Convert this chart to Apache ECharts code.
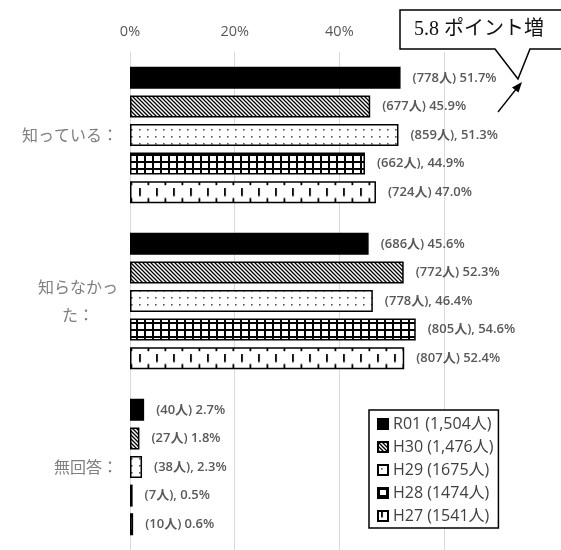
<!DOCTYPE html>
<html>
<head>
<meta charset="utf-8">
<script src="https://cdn.jsdelivr.net/npm/echarts@6/dist/echarts.min.js"></script>
<style>
html,body{margin:0;padding:0;background:#fff;}
#main{width:561px;height:550px;}
</style>
</head>
<body>
<div id="main"></div>
<script>
// ---- data ----
const categories = ['知っている：', '知らなかっ\nた：', '無回答：'];
const seriesNames = ['R01 (1,504人)', 'H30 (1,476人)', 'H29 (1675人)', 'H28 (1474人)', 'H27 (1541人)'];
const valuesR01 = [51.7, 45.6, 2.7];
const valuesH30 = [45.9, 52.3, 1.8];
const valuesH29 = [51.3, 46.4, 2.3];
const valuesH28 = [44.9, 54.6, 0.5];
const valuesH27 = [47.0, 52.4, 0.6];
const labelsR01 = ['(778人) 51.7%', '(686人) 45.6%', '(40人) 2.7%'];
const labelsH30 = ['(677人) 45.9%', '(772人) 52.3%', '(27人) 1.8%'];
const labelsH29 = ['(859人), 51.3%', '(778人), 46.4%', '(38人), 2.3%'];
const labelsH28 = ['(662人), 44.9%', '(805人), 54.6%', '(7人), 0.5%'];
const labelsH27 = ['(724人) 47.0%', '(807人) 52.4%', '(10人) 0.6%'];
const xTicks = [0, 20, 40, 60];
const calloutText = '5.8 ポイント増';

// ---- patterns ----
function makePattern(w, h, draw, extra) {
  const c = document.createElement('canvas');
  c.width = w; c.height = h;
  const g = c.getContext('2d');
  g.fillStyle = '#fff'; g.fillRect(0, 0, w, h);
  g.fillStyle = '#000'; g.strokeStyle = '#000';
  draw(g);
  return Object.assign({ image: c, repeat: 'repeat' }, extra || {});
}
const patDiag = makePattern(4, 4, g => {
  g.lineWidth = 1.3;
  g.beginPath();
  for (let k = -4; k <= 4; k += 4) { g.moveTo(k - 1, -1); g.lineTo(k + 5, 5); }
  g.stroke();
});
const patDots = makePattern(8, 7, g => { g.fillStyle = '#555'; g.fillRect(3, 3, 1.6, 1.6); });
const patGrid = makePattern(8, 7, g => { g.fillRect(0, 0, 2, 7); g.fillRect(0, 0, 8, 2); });
function dashPattern(y0, period) {
  return makePattern(17, 25, g => {
    g.fillRect(11.5, 0, 1.8, 5);
    g.fillRect(3, 8, 1.8, 8.5);
    g.fillRect(11.5, 18.5, 1.8, 5);
  }, { y: y0, scaleY: period / 25 });
}

const valueSets = [valuesR01, valuesH30, valuesH29, valuesH28, valuesH27];
const labelSets = [labelsR01, labelsH30, labelsH29, labelsH28, labelsH27];

const chart = echarts.init(document.getElementById('main'), null, { renderer: 'canvas' });
function buildSeries(fills) {
  return seriesNames.map((name, i) => ({
    name: name,
    type: 'bar',
    data: valueSets[i],
    barWidth: 22,
    barGap: '30%',
    itemStyle: { color: fills[i], borderColor: '#000', borderWidth: 1.5 },
    label: {
      show: true,
      position: 'right',
      distance: 12,
      color: '#595959',
      fontSize: 13,
      fontWeight: 600,
      fontFamily: '"Open Sans", "Noto Sans CJK JP", sans-serif',
      formatter: p => labelSets[i][p.dataIndex]
    }
  }));
}

chart.setOption({
  animation: false,
  backgroundColor: '#fff',
  grid: { left: 130, right: 117, top: 52, height: 517.5, containLabel: false },
  xAxis: {
    type: 'value', position: 'top', min: xTicks[0], max: xTicks[xTicks.length - 1], interval: 20,
    axisLine: { show: false }, axisTick: { show: false },
    axisLabel: {
      formatter: '{value}%', color: '#595959', fontSize: 14.5, margin: 13, showMaxLabel: false,
      fontFamily: '"Open Sans", sans-serif'
    },
    splitLine: { show: true, lineStyle: { color: '#d9d9d9', width: 1 } }
  },
  yAxis: {
    type: 'category', inverse: true, data: categories,
    axisLine: { show: false }, axisTick: { show: false },
    axisLabel: {
      margin: 12, color: '#7f7f7f', fontSize: 16, lineHeight: 28,
      fontFamily: '"Noto Sans CJK JP", sans-serif',
      formatter: v => v.split('\n').map(s => '{c|' + s + '}').join('\n'),
      rich: { c: { align: 'center', color: '#7f7f7f', fontSize: 16, lineHeight: 28, fontFamily: '"Noto Sans CJK JP", sans-serif' } }
    }
  },
  legend: {
    orient: 'vertical', left: 369, top: 410,
    icon: 'rect',
    itemWidth: 10, itemHeight: 10, itemGap: 7, itemTextGap: 5,
    padding: [6, 5, 4, 8],
    borderColor: '#000', borderWidth: 1.5, backgroundColor: '#fff',
    textStyle: { fontSize: 16, color: '#404040', lineHeight: 16, fontFamily: '"Open Sans", "Noto Sans CJK JP", sans-serif' },
    data: seriesNames
  },
  graphic: [
    {
      type: 'polygon', z: 100,
      shape: { points: [[400, 10], [566, 10], [566, 49], [530, 49], [518, 79], [495, 49], [400, 49]] },
      style: { fill: '#fff', stroke: '#000', lineWidth: 1.5 }
    },
    {
      type: 'text', z: 101, left: 414, top: 20,
      style: { text: calloutText, fill: '#111', font: '20px "Liberation Serif", "Noto Sans CJK JP", serif' }
    },
    {
      type: 'line', z: 100,
      shape: { x1: 498, y1: 112, x2: 517, y2: 88 },
      style: { stroke: '#000', lineWidth: 1.3 }
    },
    {
      type: 'polygon', z: 100,
      shape: { points: [[522, 82], [518.5, 92.5], [512, 87.5]] },
      style: { fill: '#000' }
    }
  ],
  series: buildSeries(['#000', patDiag, patDots, patGrid, dashPattern(0, 25)])
});

// align the H27 dash pattern to the bars' actual layout
try {
  const data = chart.getModel().getSeriesByIndex(4).getData();
  const l0 = data.getItemLayout(0), l1 = data.getItemLayout(1);
  const top0 = Math.min(l0.y, l0.y + l0.height) - 0.75;
  const top1 = Math.min(l1.y, l1.y + l1.height) - 0.75;
  const period = (top1 - top0) / 7;
  chart.setOption({ series: buildSeries(['#000', patDiag, patDots, patGrid, dashPattern(top0, period)]) });
} catch (e) {}
</script>
</body>
</html>
